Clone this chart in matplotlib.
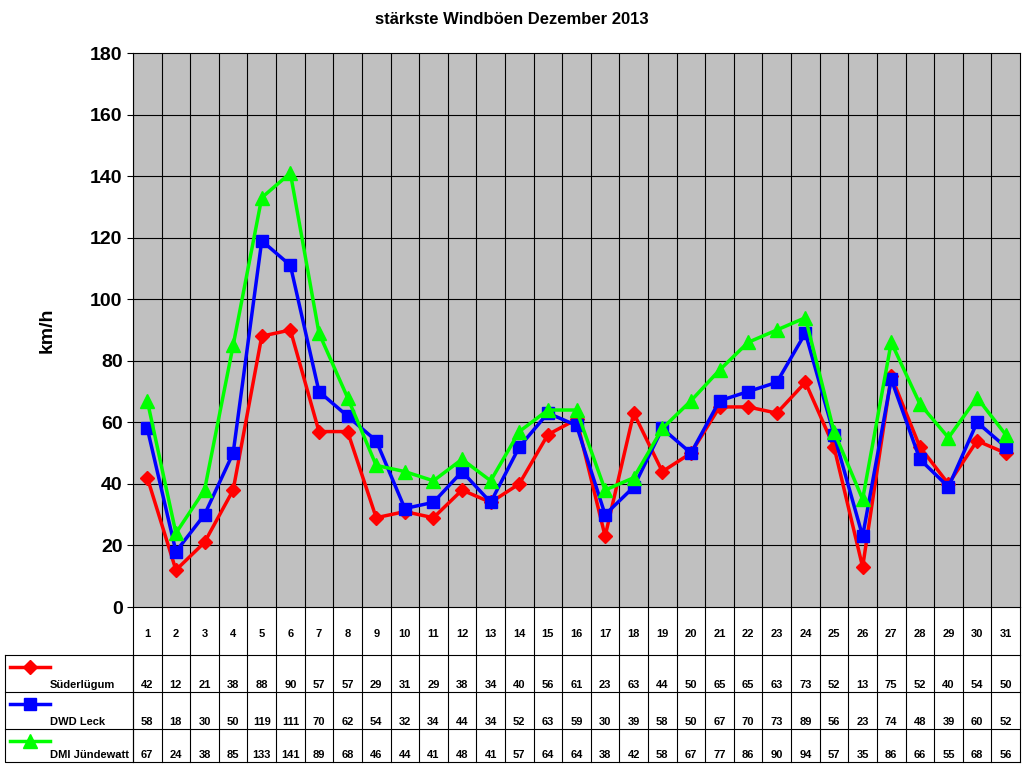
import matplotlib
matplotlib.use("Agg")
import matplotlib.pyplot as plt

plt.rcParams['font.family'] = ['Liberation Sans', 'DejaVu Sans']

days = list(range(1, 32))
suederluegum = [42,12,21,38,88,90,57,57,29,31,29,38,34,40,56,61,23,63,44,50,65,65,63,73,52,13,75,52,40,54,50]
dwd_leck = [58,18,30,50,119,111,70,62,54,32,34,44,34,52,63,59,30,39,58,50,67,70,73,89,56,23,74,48,39,60,52]
dmi = [67,24,38,85,133,141,89,68,46,44,41,48,41,57,64,64,38,42,58,67,77,86,90,94,57,35,86,66,55,68,56]
names = ['Süderlügum', 'DWD Leck', 'DMI Jündewatt']
series = [suederluegum, dwd_leck, dmi]
colors = ['#ff0000', '#0000ff', '#00ff00']
markers = ['D', 's', '^']
msizes = [7, 9, 10]

W, H = 1024, 768
fig = plt.figure(figsize=(W/100, H/100), dpi=100)
L, R, T, B = 133, 1020, 53, 607
ax = fig.add_axes([L/W, 1-B/H, (R-L)/W, (B-T)/H])
ax.set_facecolor('#c0c0c0')
for s, c, m, ms in zip(series, colors, markers, msizes):
    ax.plot(days, s, color=c, marker=m, markersize=ms, linewidth=2.5)
ax.set_xlim(0.5, 31.5)
ax.set_ylim(0, 180)
ax.set_yticks(range(0, 181, 20))
ax.set_xticks([])
for x in [d + 0.5 for d in range(0, 31)]:
    ax.axvline(x, color='black', linewidth=0.8, zorder=0)
for y in range(20, 180, 20):
    ax.axhline(y, color='black', linewidth=0.8, zorder=0)
ax.tick_params(axis='y', labelsize=14, length=4)
for lbl in ax.get_yticklabels():
    lbl.set_fontweight('bold')
ax.set_ylabel('km/h', fontsize=14, fontweight='bold', labelpad=25)
fig.text(0.5, 1-20/H, 'stärkste Windböen Dezember 2013', ha='center', va='center',
         fontsize=12, fontweight='bold')

# table
TB = 762
tax = fig.add_axes([L/W, 1-TB/H, (R-L)/W, (TB-B)/H])
tax.set_xlim(0.5, 31.5)
tax.set_ylim(TB-B, 0)
tax.axis('off')
rows = [0, 48, 85, 122, TB-B]
for y in rows[1:]:
    tax.plot([0.5, 31.5], [y, y], color='black', lw=0.8, clip_on=False)
for x in [d + 0.5 for d in range(0, 32)]:
    tax.plot([x, x], [0, TB-B], color='black', lw=0.8, clip_on=False)
for d in days:
    tax.text(d, 27, str(d), ha='center', va='center', fontsize=8, fontweight='bold')
for i, s in enumerate(series):
    for d, v in zip(days, s):
        tax.text(d, rows[i+2]-7, str(v), ha='center', va='center', fontsize=8, fontweight='bold')

lax = fig.add_axes([5/W, 1-TB/H, (L-5)/W, (TB-B)/H])
lax.set_xlim(0, L-5)
lax.set_ylim(TB-B, 0)
lax.axis('off')
lax.plot([0, L-5, L-5, 0, 0], [48, 48, TB-B, TB-B, 48], color='black', lw=0.8, clip_on=False)
for y in rows[2:4]:
    lax.plot([0, L-5], [y, y], color='black', lw=0.8, clip_on=False)
for i, (n, c, m, ms) in enumerate(zip(names, colors, markers, msizes)):
    yl = rows[i+1] + 12
    lax.plot([5, 45], [yl, yl], color=c, lw=2.5)
    lax.plot([25], [yl], color=c, marker=m, markersize=ms)
    lax.text(45, rows[i+2]-7, n, ha='left', va='center', fontsize=8, fontweight='bold')

fig.savefig('out.png', dpi=100)
